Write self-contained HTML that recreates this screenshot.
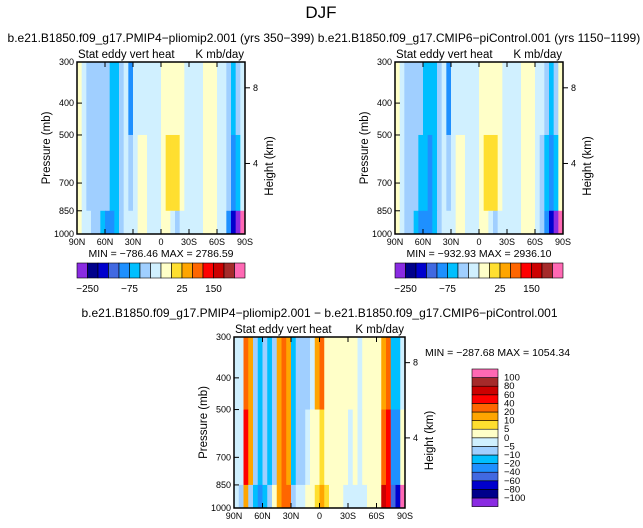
<!DOCTYPE html>
<html><head><meta charset="utf-8"><style>
body{margin:0;background:#fff;}
svg{display:block;font-family:"Liberation Sans",sans-serif;}
</style></head><body>
<svg id="s" width="643" height="528" viewBox="0 0 643 528"></svg>
<script>
// ---- data ----
const lats = ["90N","60N","30N","0","30S","60S","90S"];
const pTicks = [300,400,500,700,850,1000];
const hTicks = [8,4];
const topLevels = [-250,-200,-150,-100,-75,-50,-25,0,10,25,50,100,150,200,250];
const topLabels = ["-250","-75","25","150"];
const topLabelIdx = [0,4,9,12];
const diffLevels = [-100,-80,-60,-40,-20,-10,-5,0,5,10,20,40,60,80,100];
const colors = ["#8a2be2","#00008b","#0000cd","#4169e1","#1e90ff","#00bfff","#a0cfff","#d0f0ff","#ffffc8","#ffdf30","#ffa500","#ff6600","#ff0000","#cc0000","#a52a2a","#ff69b4"];
// three pressure layers: 300-500, 500-850, 850-1000 ; 36 columns 90N->90S
const layerP = [300,500,850,1000];
const pmipUpper=[5,-10,-30,-30,-30,-30,-40,-60,-60,-40,-10,-80,-10,-10,-10,-10,-10,-10,5,5,8,5,5,-10,-10,-10,-10,5,5,5,-10,-10,-30,-60,-30,-10];
const pmipMid=[5,-10,-30,-30,-30,-40,-50,-60,-60,-40,-20,-30,-10,5,5,-10,-10,-10,5,15,20,15,5,-10,-10,-10,-10,5,5,5,-10,-10,-50,-90,-60,-10];
const pmipLow=[5,-10,-10,-30,-40,-60,-80,-90,-60,-40,-20,-10,-10,5,5,-10,-10,-10,5,5,-10,-30,-10,-10,-10,-10,-10,5,5,5,-10,-10,-90,-200,-260,260];
const ctlUpper=[5,-10,-30,-30,-30,-40,-60,-70,-60,-40,-20,-80,-10,-10,-10,-10,-10,-10,5,5,8,5,5,-10,-10,-10,-10,5,5,5,-10,-10,-40,-60,-30,5];
const ctlMid=[5,-10,-30,-30,-40,-60,-70,-80,-60,-40,-20,-40,-10,5,5,-10,-10,-10,5,15,20,15,5,-10,-10,-10,-10,5,5,5,-10,-30,-60,-90,-60,5];
const ctlLow=[5,-10,-30,-40,-60,-80,-90,-80,-60,-40,-20,-10,-10,5,5,-10,-10,-10,5,5,-10,-30,-10,-10,-10,-10,-10,5,5,5,-10,-40,-100,-200,-260,260];
const diffUpper=[-3,-3,20,15,-7,-15,-7,-20,-7,15,20,15,-15,-7,-7,-7,-3,15,20,3,3,3,3,3,3,3,-3,3,3,3,3,15,20,-20,-20,-3];
const diffMid=[-3,-3,40,15,-10,-20,-7,-20,-7,15,20,15,-20,-7,-7,-3,3,3,8,3,3,3,3,3,-3,3,-3,3,3,3,3,30,50,-30,-40,3];
const diffLow=[-3,-7,10,-7,-20,-40,-20,-10,3,10,20,20,-7,-3,-3,3,3,8,10,8,3,3,3,-3,-3,-3,-3,-3,3,3,3,60,40,-60,-80,100];

const NS="http://www.w3.org/2000/svg";
const svg=document.getElementById('s');
function mk(tag,attrs,parent){const e=document.createElementNS(NS,tag);for(const k in attrs)e.setAttribute(k,attrs[k]);(parent||svg).appendChild(e);return e;}
function txt(x,y,s,size,anchor,name,parent){const t=mk('text',{x:x,y:y,'font-size':size,'text-anchor':anchor||'start',fill:'#000'},parent);t.textContent=s;


return t;}
function colorFor(v,levels){let i=0;while(i<levels.length&&v>=levels[i])i++;return colors[i];}

function panel(x0,y0,w,h,layers,levels,title,name){
  const g=mk('g',{});
  
  
  const yP=p=>y0+Math.log(p/300)/Math.log(1000/300)*h;
  const xC=i=>x0+i*w/36;
  layers.forEach((arr,li)=>{
    arr.forEach((v,i)=>{
      const r=mk('rect',{x:xC(i),y:yP(layerP[li]),width:w/36+0.5,height:yP(layerP[li+1])-yP(layerP[li])+0.5,fill:colorFor(v,levels)},g);
      
      
    });
  });
  const b=mk('rect',{x:x0,y:y0,width:w,height:h,fill:'none',stroke:'#000','stroke-width':1.5},g);
  
  
  lats.forEach((l,i)=>{const x=x0+i*w/6;
    mk('line',{x1:x,x2:x,y1:y0+h,y2:y0+h-5,stroke:'#000'},g);mk('line',{x1:x,x2:x,y1:y0,y2:y0+5,stroke:'#000'},g);
    txt(x,y0+h+11,l,9,'middle','x-tick-label',g);});
  pTicks.forEach(p=>{const y=yP(p);mk('line',{x1:x0,x2:x0+5,y1:y,y2:y,stroke:'#000'},g);txt(x0-3,y+3,String(p),9,'end','y-tick-label',g);});
  hTicks.forEach(k=>{const y=y0+h*(k===8?0.15:0.59);mk('line',{x1:x0+w,x2:x0+w+5,y1:y,y2:y,stroke:'#000'},g);txt(x0+w+8,y+3,String(k),9,'start','height-tick-label',g);});
  const yl=txt(0,0,'Pressure (mb)',11.5,'middle','y-axis-title',g);yl.setAttribute('transform',`translate(${x0-27},${y0+h/2}) rotate(-90)`);
  const hl=txt(0,0,'Height (km)',11.5,'middle','height-axis-title',g);hl.setAttribute('transform',`translate(${x0+w+28},${y0+h/2+18}) rotate(-90)`);
  txt(x0+1,y0-4,'Stat eddy vert heat',11.5,'start','plot-subtitle',g);
  txt(x0+w-1,y0-4,'K mb/day',11.5,'end','units-label',g);
  txt(x0+w/2,y0-20,title,12,'middle','panel-title',g);
}
txt(321,18,'DJF',17,'middle','figure-title');
panel(77,62,168,172,[pmipUpper,pmipMid,pmipLow],topLevels,'b.e21.B1850.f09_g17.PMIP4\u2212pliomip2.001 (yrs 350\u2212399)','panel-pliomip');
panel(395,62,168,172,[ctlUpper,ctlMid,ctlLow],topLevels,'b.e21.B1850.f09_g17.CMIP6\u2212piControl.001 (yrs 1150\u22121199)','panel-picontrol');
panel(234,337,171,171,[diffUpper,diffMid,diffLow],diffLevels,'b.e21.B1850.f09_g17.PMIP4\u2212pliomip2.001 \u2212 b.e21.B1850.f09_g17.CMIP6\u2212piControl.001','panel-difference');
txt(161,257,'MIN = \u2212786.46   MAX = 2786.59',10.5,'middle','min-max-pliomip');
txt(479,257,'MIN = \u2212932.93   MAX = 2936.10',10.5,'middle','min-max-picontrol');
txt(425,356,'MIN = \u2212287.68   MAX = 1054.34',10.5,'start','min-max-difference');
// horizontal colorbars
[77,395].forEach((x0,k)=>{
  colors.forEach((c,i)=>{const r=mk('rect',{x:x0+i*10.5,y:263,width:10.5,height:15,fill:c,stroke:'#000','stroke-width':0.6});
    
    });
  topLabels.forEach((l,j)=>txt(x0+(topLabelIdx[j]+1)*10.5,292,l.replace('-','\u2212'),10,'middle','colorbar-label'));
});
// vertical colorbar
colors.forEach((c,i)=>{const y=369+(15-i)*8.6;const r=mk('rect',{x:472,y:y,width:26,height:8.6,fill:c,stroke:'#000','stroke-width':0.6});
  
  });
diffLevels.forEach((l,i)=>{const y=369+(15-i)*8.6;txt(504,y+3,String(l).replace('-','\u2212'),9.5,'start','colorbar-label');});
</script>
</body></html>
